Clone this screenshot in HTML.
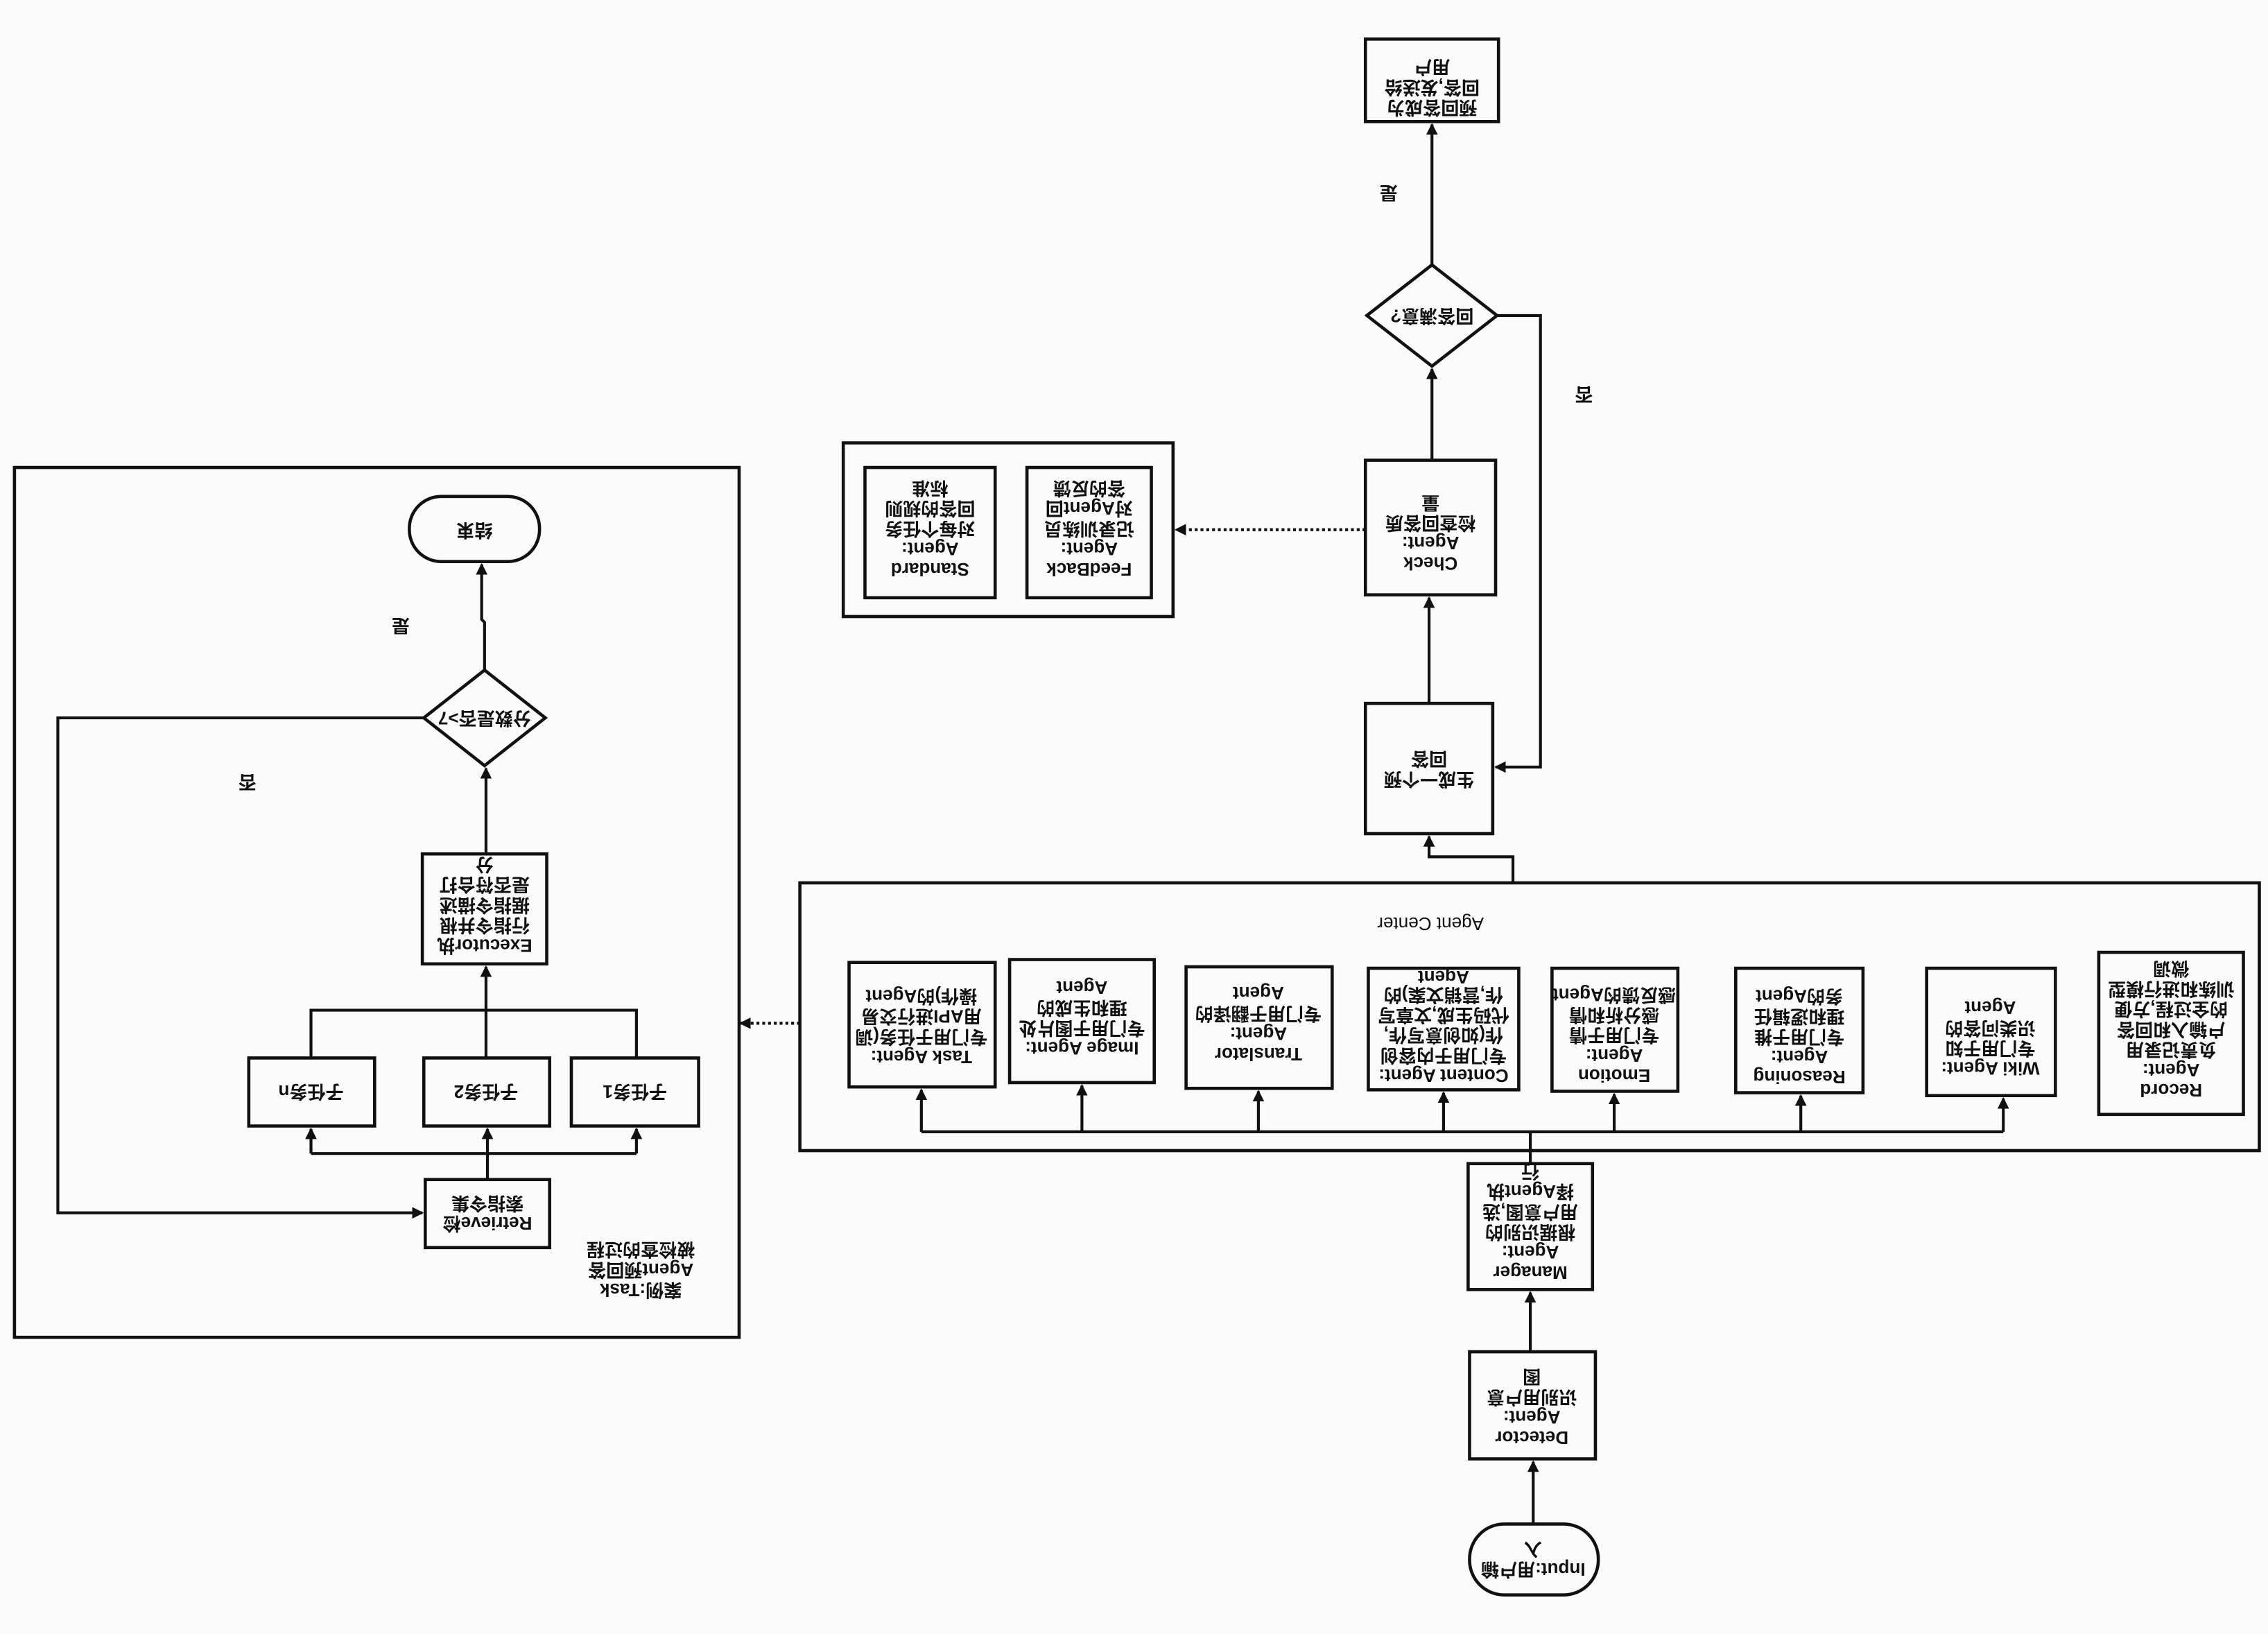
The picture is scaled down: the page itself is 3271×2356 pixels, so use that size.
<!DOCTYPE html>
<html><head><meta charset="utf-8"><style>
html,body{margin:0;padding:0;background:#fff;}
svg{display:block;}
text{font-family:"Liberation Sans","Noto Sans CJK SC",sans-serif;font-size:12.5px;fill:#111;font-weight:bold;}
</style></head><body>
<svg width="3271" height="2356" viewBox="0 0 1568 1129" preserveAspectRatio="none" xmlns="http://www.w3.org/2000/svg">
<defs>
<marker id="a" markerWidth="8" markerHeight="8" refX="7" refY="4" orient="auto" markerUnits="userSpaceOnUse"><path d="M0,0 L8,4 L0,8 z" fill="#111"/></marker>
</defs>
<rect width="1568" height="1129" fill="#fbfbfb"/>
<g fill="none" stroke="#111" stroke-width="2.2">
<rect x="1016" y="1053" width="89" height="49" rx="24"/>
<rect x="1016" y="934" width="87" height="74"/>
<rect x="1015" y="804" width="86" height="87"/>
<rect x="553" y="610" width="1009" height="185"/>
<rect x="587" y="665" width="101" height="86"/>
<rect x="698" y="663" width="100" height="85"/>
<rect x="820" y="668" width="101" height="84"/>
<rect x="946" y="669" width="104" height="84"/>
<rect x="1073" y="669" width="87" height="85"/>
<rect x="1200" y="669" width="88" height="86"/>
<rect x="1332" y="669" width="89" height="88"/>
<rect x="1451" y="658" width="100" height="112"/>
<rect x="944" y="486" width="88" height="90"/>
<rect x="944" y="318" width="90" height="93"/>
<rect x="583" y="306" width="228" height="120"/>
<rect x="710" y="323" width="86" height="90"/>
<rect x="598" y="323" width="90" height="90"/>
<polygon points="990,183 1035,218 990,253 945,218"/>
<rect x="944" y="27" width="92" height="57"/>
<rect x="10" y="323" width="501" height="601"/>
<rect x="283" y="343" width="90" height="45" rx="22"/>
<polygon points="335,463 377,496 335,529 293,496"/>
<rect x="292" y="590" width="86" height="76"/>
<rect x="395" y="731" width="88" height="47"/>
<rect x="293" y="731" width="87" height="47"/>
<rect x="172" y="731" width="87" height="47"/>
<rect x="294" y="815" width="86" height="47"/>
</g>
<g fill="none" stroke="#111" stroke-width="2">
<line x1="1060" y1="1053" x2="1060" y2="1010" marker-end="url(#a)"/>
<line x1="1058" y1="934" x2="1058" y2="893" marker-end="url(#a)"/>
<line x1="1058" y1="804" x2="1058" y2="782"/>
<line x1="637" y1="782" x2="1385" y2="782"/>
<line x1="637" y1="782" x2="637" y2="753" marker-end="url(#a)"/>
<line x1="748" y1="782" x2="748" y2="750" marker-end="url(#a)"/>
<line x1="870" y1="782" x2="870" y2="754" marker-end="url(#a)"/>
<line x1="998" y1="782" x2="998" y2="755" marker-end="url(#a)"/>
<line x1="1116" y1="782" x2="1116" y2="756" marker-end="url(#a)"/>
<line x1="1245" y1="782" x2="1245" y2="757" marker-end="url(#a)"/>
<line x1="1385" y1="782" x2="1385" y2="759" marker-end="url(#a)"/>
<polyline points="1046,610 1046,592 988,592 988,578" marker-end="url(#a)"/>
<line x1="988" y1="486" x2="988" y2="413" marker-end="url(#a)"/>
<line x1="944" y1="366" x2="813" y2="366" stroke-dasharray="2,2" marker-end="url(#a)"/>
<line x1="990" y1="318" x2="990" y2="255" marker-end="url(#a)"/>
<line x1="990" y1="183" x2="990" y2="86" marker-end="url(#a)"/>
<polyline points="1035,218 1065,218 1065,530 1034,530" marker-end="url(#a)"/>
<line x1="553" y1="707" x2="512" y2="707" stroke-dasharray="2,2" marker-end="url(#a)"/>
<polyline points="335,463 335,430 333,428 333,390" marker-end="url(#a)"/>
<line x1="336" y1="590" x2="336" y2="531" marker-end="url(#a)"/>
<line x1="336" y1="731" x2="336" y2="668" marker-end="url(#a)"/>
<polyline points="215,731 215,698 440,698 440,731"/>
<line x1="337" y1="815" x2="337" y2="780" marker-end="url(#a)"/>
<line x1="215" y1="797" x2="440" y2="797"/>
<line x1="215" y1="797" x2="215" y2="780" marker-end="url(#a)"/>
<line x1="440" y1="797" x2="440" y2="780" marker-end="url(#a)"/>
<polyline points="293,496 40,496 40,838 292,838" marker-end="url(#a)"/>
</g>
<g transform="rotate(180 1060 1078)"><text x="1060" y="1076" text-anchor="middle">Input:用户输</text><text x="1060" y="1090" text-anchor="middle">入</text></g>
<g transform="rotate(180 1059 971)"><text x="1059" y="953" text-anchor="middle">Detector</text><text x="1059" y="967" text-anchor="middle">Agent:</text><text x="1059" y="981" text-anchor="middle">识别用户意</text><text x="1059" y="995" text-anchor="middle">图</text></g>
<g transform="rotate(180 1058 847)"><text x="1058" y="819" text-anchor="middle">Manager</text><text x="1058" y="833" text-anchor="middle">Agent:</text><text x="1058" y="847" text-anchor="middle">根据识别的</text><text x="1058" y="861" text-anchor="middle">用户意图,选</text><text x="1058" y="875" text-anchor="middle">择Agent执</text><text x="1058" y="889" text-anchor="middle">行</text></g>
<g transform="rotate(180 989 638)"><text x="989" y="642" text-anchor="middle" style="font-weight:normal">Agent Center</text></g>
<g transform="rotate(180 637 708)"><text x="637" y="690" text-anchor="middle">Task Agent:</text><text x="637" y="704" text-anchor="middle">专门用于任务(调</text><text x="637" y="718" text-anchor="middle">用API进行交易</text><text x="637" y="732" text-anchor="middle">操作)的Agent</text></g>
<g transform="rotate(180 748 705)"><text x="748" y="690" text-anchor="middle">Image Agent:</text><text x="748" y="704" text-anchor="middle">专门用于图片处</text><text x="748" y="718" text-anchor="middle">理和生成的</text><text x="748" y="732" text-anchor="middle">Agent</text></g>
<g transform="rotate(180 870 710)"><text x="870" y="696" text-anchor="middle">Translator</text><text x="870" y="710" text-anchor="middle">Agent:</text><text x="870" y="724" text-anchor="middle">专门用于翻译的</text><text x="870" y="738" text-anchor="middle">Agent</text></g>
<g transform="rotate(180 998 711)"><text x="998" y="683" text-anchor="middle">Content Agent:</text><text x="998" y="697" text-anchor="middle">专门用于内容创</text><text x="998" y="711" text-anchor="middle">作(如创意写作,</text><text x="998" y="725" text-anchor="middle">代码生成,文章写</text><text x="998" y="739" text-anchor="middle">作,营销文案)的</text><text x="998" y="751" text-anchor="middle">Agent</text></g>
<g transform="rotate(180 1116 711)"><text x="1116" y="683" text-anchor="middle">Emotion</text><text x="1116" y="697" text-anchor="middle">Agent:</text><text x="1116" y="711" text-anchor="middle">专门用于情</text><text x="1116" y="725" text-anchor="middle">感分析和情</text><text x="1116" y="739" text-anchor="middle">感反馈的Agent</text></g>
<g transform="rotate(180 1244 712)"><text x="1244" y="684" text-anchor="middle">Reasoning</text><text x="1244" y="698" text-anchor="middle">Agent:</text><text x="1244" y="712" text-anchor="middle">专门用于推</text><text x="1244" y="726" text-anchor="middle">理和逻辑任</text><text x="1244" y="740" text-anchor="middle">务的Agent</text></g>
<g transform="rotate(180 1376 713)"><text x="1376" y="692" text-anchor="middle">Wiki Agent:</text><text x="1376" y="706" text-anchor="middle">专门用于知</text><text x="1376" y="720" text-anchor="middle">识类问答的</text><text x="1376" y="734" text-anchor="middle">Agent</text></g>
<g transform="rotate(180 1501 714)"><text x="1501" y="679" text-anchor="middle">Record</text><text x="1501" y="693" text-anchor="middle">Agent:</text><text x="1501" y="707" text-anchor="middle">负责记录用</text><text x="1501" y="721" text-anchor="middle">户输入和回答</text><text x="1501" y="735" text-anchor="middle">的全过程,方便</text><text x="1501" y="749" text-anchor="middle">训练和进行模型</text><text x="1501" y="763" text-anchor="middle">微调</text></g>
<g transform="rotate(180 988 531)"><text x="988" y="528" text-anchor="middle">生成一个预</text><text x="988" y="542" text-anchor="middle">回答</text></g>
<g transform="rotate(180 989 364)"><text x="989" y="343" text-anchor="middle">Check</text><text x="989" y="357" text-anchor="middle">Agent:</text><text x="989" y="371" text-anchor="middle">检查回答质</text><text x="989" y="385" text-anchor="middle">量</text></g>
<g transform="rotate(180 753 368)"><text x="753" y="347" text-anchor="middle">FeedBack</text><text x="753" y="361" text-anchor="middle">Agent:</text><text x="753" y="375" text-anchor="middle">记录训练员</text><text x="753" y="389" text-anchor="middle">对Agent回</text><text x="753" y="403" text-anchor="middle">答的反馈</text></g>
<g transform="rotate(180 643 368)"><text x="643" y="347" text-anchor="middle">Standard</text><text x="643" y="361" text-anchor="middle">Agent:</text><text x="643" y="375" text-anchor="middle">对每个任务</text><text x="643" y="389" text-anchor="middle">回答的规则</text><text x="643" y="403" text-anchor="middle">标准</text></g>
<g transform="rotate(180 990 218)"><text x="990" y="222" text-anchor="middle">回答满意?</text></g>
<g transform="rotate(180 990 56)"><text x="990" y="42" text-anchor="middle">预回答成为</text><text x="990" y="56" text-anchor="middle">回答,发送给</text><text x="990" y="70" text-anchor="middle">用户</text></g>
<g transform="rotate(180 960 133)"><text x="960" y="137" text-anchor="middle">是</text></g>
<g transform="rotate(180 1095 272)"><text x="1095" y="276" text-anchor="middle">否</text></g>
<g transform="rotate(180 328 366)"><text x="328" y="370" text-anchor="middle">结束</text></g>
<g transform="rotate(180 335 496)"><text x="335" y="500" text-anchor="middle">分数是否&gt;7</text></g>
<g transform="rotate(180 277 432)"><text x="277" y="436" text-anchor="middle">是</text></g>
<g transform="rotate(180 171 540)"><text x="171" y="544" text-anchor="middle">否</text></g>
<g transform="rotate(180 335 628)"><text x="335" y="607" text-anchor="middle">Executor执</text><text x="335" y="621" text-anchor="middle">行指令并根</text><text x="335" y="635" text-anchor="middle">据指令描述</text><text x="335" y="649" text-anchor="middle">是否符合打</text><text x="335" y="663" text-anchor="middle">分</text></g>
<g transform="rotate(180 439 754)"><text x="439" y="758" text-anchor="middle">子任务1</text></g>
<g transform="rotate(180 336 754)"><text x="336" y="758" text-anchor="middle">子任务2</text></g>
<g transform="rotate(180 215 754)"><text x="215" y="758" text-anchor="middle">子任务n</text></g>
<g transform="rotate(180 337 838)"><text x="337" y="835" text-anchor="middle">Retrieve检</text><text x="337" y="849" text-anchor="middle">索指令集</text></g>
<g transform="rotate(180 443 873)"><text x="443" y="859" text-anchor="middle">案例:Task</text><text x="443" y="873" text-anchor="middle">Agent预回答</text><text x="443" y="887" text-anchor="middle">被检查的过程</text></g>
</svg>
</body></html>
